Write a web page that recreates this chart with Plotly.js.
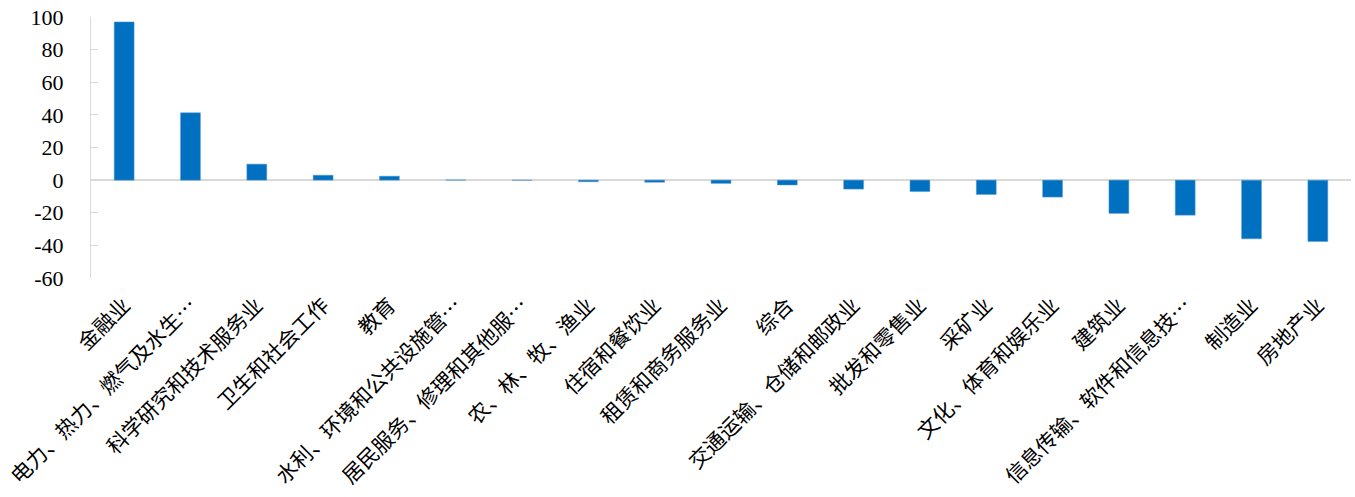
<!DOCTYPE html>
<html>
<head>
<meta charset="utf-8">
<script src="https://cdn.plot.ly/plotly-3.0.1.min.js"></script>
<style>html,body{margin:0;padding:0;background:#fff;}#chart{width:1355px;height:497px;}</style>
</head>
<body>
<div id="chart"></div>
<script>
const categories = [
  "金融业",
  "电力、热力、燃气及水生…",
  "科学研究和技术服务业",
  "卫生和社会工作",
  "教育",
  "水利、环境和公共设施管…",
  "居民服务、修理和其他服…",
  "农、林、牧、渔业",
  "住宿和餐饮业",
  "租赁和商务服务业",
  "综合",
  "交通运输、仓储和邮政业",
  "批发和零售业",
  "采矿业",
  "文化、体育和娱乐业",
  "建筑业",
  "信息传输、软件和信息技…",
  "制造业",
  "房地产业"
];
const values = [97, 41.3, 9.8, 3, 2.4, 0.1, -0.1, -1, -1.3, -2, -3, -5.5, -7, -8.8, -10.4, -20.4, -21.5, -36, -37.6];
const yTicks = [-60, -40, -20, 0, 20, 40, 60, 80, 100];

const trace = {
  type: 'bar',
  x: categories,
  y: values,
  marker: {color: '#0070C0', line: {color: '#5B9BD5', width: 0.5}},
  hoverinfo: 'x+y'
};

const layout = {
  width: 1355,
  height: 497,
  margin: {l: 91, r: 4, t: 17, b: 219, pad: 0},
  paper_bgcolor: '#ffffff',
  plot_bgcolor: '#ffffff',
  showlegend: false,
  bargap: 0.7,
  font: {family: '"Liberation Serif", "Times New Roman", "Noto Sans CJK SC", serif', color: '#000000'},
  xaxis: {
    type: 'category',
    tickangle: -45,
    showline: false,
    showgrid: false,
    zeroline: false,
    ticks: '',
    automargin: false,
    ticklabelstandoff: 10,
    tickfont: {size: 21, family: '"Noto Sans CJK SC", "Liberation Serif", serif', color: '#000000'}
  },
  yaxis: {
    range: [-60, 100],
    tickvals: yTicks,
    ticktext: yTicks.map(String),
    showgrid: false,
    showline: true,
    linecolor: '#D9D9D9',
    linewidth: 1,
    ticks: 'inside',
    ticklen: 7,
    tickcolor: '#D9D9D9',
    zeroline: true,
    zerolinecolor: '#D9D9D9',
    zerolinewidth: 1.5,
    automargin: false,
    ticklabelstandoff: 22,
    tickfont: {size: 22, family: '"Liberation Serif", "Times New Roman", serif', color: '#000000'}
  }
};

Plotly.newPlot('chart', [trace], layout, {displayModeBar: false, staticPlot: true});
</script>
</body>
</html>
